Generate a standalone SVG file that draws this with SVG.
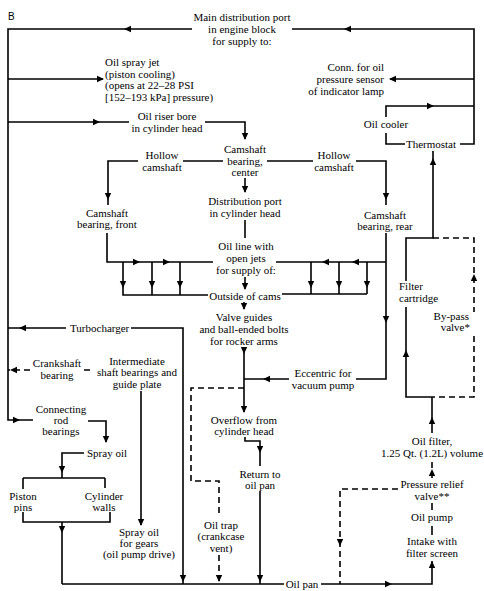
<svg xmlns="http://www.w3.org/2000/svg" width="484" height="591" viewBox="0 0 484 591">
<style>
.t{font-family:"Liberation Serif","Times New Roman",serif;font-size:11px;fill:#000;text-anchor:middle}
.s{text-anchor:start}
.e{text-anchor:end}
.c{fill:none;stroke:#000;stroke-width:1.6;stroke-linejoin:miter}
.d{stroke-dasharray:6 4}
.a{fill:#000}
</style>
<defs>
<path id="ah" d="M0,0 L-7,-3.2 L-7,3.2 Z"/>
</defs>
<rect width="484" height="591" fill="#fff"/>
<text x="8" y="20" style="font-family:'Liberation Sans',Arial,sans-serif;font-size:10px">B</text>

<g id="main-distribution" class="t"><text x="242" y="21">Main distribution port</text><text x="242" y="33">in engine block</text><text x="242" y="45">for supply to:</text></g>
<g id="conn-sensor" class="t e"><text x="384" y="71">Conn. for oil</text><text x="384" y="83">pressure sensor</text><text x="384" y="95">of indicator lamp</text></g>
<g id="oil-spray-jet" class="t s"><text x="105" y="66">Oil spray jet</text><text x="105" y="77.5">(piston cooling)</text><text x="105" y="89">(opens at 22–28 PSI</text><text x="105" y="100.5">[152–193 kPa] pressure)</text></g>
<g id="oil-riser" class="t"><text x="167" y="120">Oil riser bore</text><text x="167" y="132">in cylinder head</text></g>
<g id="oil-cooler" class="t"><text x="386" y="128">Oil cooler</text></g>
<g id="thermostat" class="t"><text x="431" y="148">Thermostat</text></g>
<g id="hollow-left" class="t"><text x="162" y="159">Hollow</text><text x="162" y="171">camshaft</text></g>
<g id="cam-center" class="t"><text x="245" y="153">Camshaft</text><text x="245" y="165">bearing,</text><text x="245" y="176">center</text></g>
<g id="hollow-right" class="t"><text x="334" y="159">Hollow</text><text x="334" y="171">camshaft</text></g>
<g id="dist-port" class="t"><text x="245" y="205">Distribution port</text><text x="245" y="217">in cylinder head</text></g>
<g id="cam-front" class="t"><text x="107" y="217">Camshaft</text><text x="107" y="228">bearing, front</text></g>
<g id="cam-rear" class="t"><text x="385" y="219">Camshaft</text><text x="385" y="230">bearing, rear</text></g>
<g id="oil-line" class="t"><text x="246" y="250">Oil line with</text><text x="246" y="262">open jets</text><text x="246" y="274">for supply of:</text></g>
<g id="outside-cams" class="t"><text x="245" y="300">Outside of cams</text></g>
<g id="valve-guides" class="t"><text x="244" y="321">Valve guides</text><text x="244" y="333">and ball-ended bolts</text><text x="244" y="345">for rocker arms</text></g>
<g id="filter-cartridge" class="t s"><text x="399" y="290">Filter</text><text x="399" y="302">cartridge</text></g>
<g id="bypass" class="t e"><text x="469" y="320">By-pass</text><text x="470" y="331">valve*</text></g>
<g id="turbo" class="t s"><text x="70" y="332">Turbocharger</text></g>
<g id="crankshaft" class="t"><text x="57" y="367">Crankshaft</text><text x="57" y="379">bearing</text></g>
<g id="intermediate" class="t"><text x="137" y="365">Intermediate</text><text x="137" y="376">shaft bearings and</text><text x="137" y="388">guide plate</text></g>
<g id="eccentric" class="t"><text x="323" y="377">Eccentric for</text><text x="323" y="389">vacuum pump</text></g>
<g id="conrod" class="t"><text x="61" y="413">Connecting</text><text x="61" y="424">rod</text><text x="61" y="435">bearings</text></g>
<g id="overflow" class="t"><text x="244" y="424">Overflow from</text><text x="244" y="435">cylinder head</text></g>
<g id="oil-filter" class="t"><text x="432" y="445">Oil filter,</text><text x="432" y="457">1.25 Qt. (1.2L) volume</text></g>
<g id="spray-oil" class="t s"><text x="87" y="457">Spray oil</text></g>
<g id="return" class="t"><text x="260" y="478">Return to</text><text x="260" y="489">oil pan</text></g>
<g id="pressure-relief" class="t"><text x="432" y="488">Pressure relief</text><text x="432" y="500">valve**</text></g>
<g id="piston-pins" class="t"><text x="23" y="500">Piston</text><text x="23" y="511">pins</text></g>
<g id="cyl-walls" class="t"><text x="104" y="500">Cylinder</text><text x="104" y="511">walls</text></g>
<g id="oil-pump" class="t"><text x="432" y="521">Oil pump</text></g>
<g id="oil-trap" class="t"><text x="221" y="529">Oil trap</text><text x="221" y="540">(crankcase</text><text x="221" y="552">vent)</text></g>
<g id="spray-gears" class="t"><text x="139" y="536">Spray oil</text><text x="139" y="547">for gears</text><text x="139" y="558">(oil pump drive)</text></g>
<g id="intake" class="t"><text x="432" y="545">Intake with</text><text x="432" y="557">filter screen</text></g>
<g id="oil-pan" class="t"><text x="302" y="588">Oil pan</text></g>

<g id="connectors">
<path class="c" d="M460,144 H474 V29 H292"/>
<path class="c" d="M474,79 H390"/>
<path class="c" d="M405,144 H386 V133 M386,117 V106 H474"/>
<path class="c" d="M192,29 H8 V420 H33"/>
<path class="c" d="M8,79 H103"/>
<path class="c" d="M8,122 H129 M205,122 H245 V139"/>
<path class="c" d="M223,161 H183 M138,161 H108 V205"/>
<path class="c" d="M267,161 H313 M356,161 H386 V205"/>
<path class="c" d="M245,178 V192"/>
<path class="c" d="M245,220 V238"/>
<path class="c" d="M245,277 V289"/>
<path class="c" d="M107,233 V262 H213 M123,262 V295 H208 M152,262 V295 M180,262 V295"/>
<path class="c" d="M386,233 V379 H356 M276,262 H386 M311,262 V294 M339,262 V294 M367,262 V294 M282,294 H367"/>
<path class="c" d="M244,302 V309"/>
<path class="c" d="M244,347 V412"/>
<path class="c" d="M289,379 H244"/>
<path class="c" d="M245,437 V441 H260 V466"/>
<path class="c" d="M260,491 V584"/>
<path class="c" d="M62,584 H284 M321,584 H432 V561"/>
<path class="c" d="M432,503 V510 M432,526 V535"/>
<path class="c d" d="M432,478 V461"/>
<path class="c" d="M432,433 V397"/>
<path class="c" d="M433,397 H406 V307 M406,281 V238 H433 V151"/>
<path class="c d" d="M433,238 H474 V312 M474,336 V397 H433"/>
<path class="c" d="M66,328 H8 M131,328 H183 V584"/>
<path class="c d" d="M30,370 H8 M84,370 H94"/>
<path class="c" d="M141,391 V525"/>
<path class="c d" d="M244,388 H191 V481 H219 V516 M219,555 V584"/>
<path class="c d" d="M398,489 H340 V584"/>
<path class="c" d="M88,421 H106 V442"/>
<path class="c" d="M84,453 H62 V478 M23,478 H105 M23,478 V489 M105,478 V488"/>
<path class="c" d="M23,512 V522 H110 V512 M62,522 V584"/>

<g class="a">
<use href="#ah" transform="translate(124,29) rotate(180)"/>
<use href="#ah" transform="translate(344,29) rotate(180)"/>
<use href="#ah" transform="translate(434,106)"/>
<use href="#ah" transform="translate(389,79) rotate(180)"/>
<use href="#ah" transform="translate(20,420)"/>
<use href="#ah" transform="translate(104,79)"/>
<use href="#ah" transform="translate(100,122)"/>
<use href="#ah" transform="translate(245,140) rotate(90)"/>
<use href="#ah" transform="translate(108,200) rotate(90)"/>
<use href="#ah" transform="translate(386,200) rotate(90)"/>
<use href="#ah" transform="translate(245,193) rotate(90)"/>
<use href="#ah" transform="translate(245,290) rotate(90)"/>
<use href="#ah" transform="translate(140,262)"/>
<use href="#ah" transform="translate(170,262)"/>
<use href="#ah" transform="translate(123,288) rotate(90)"/>
<use href="#ah" transform="translate(152,288) rotate(90)"/>
<use href="#ah" transform="translate(180,288) rotate(90)"/>
<use href="#ah" transform="translate(322,262) rotate(180)"/>
<use href="#ah" transform="translate(352,262) rotate(180)"/>
<use href="#ah" transform="translate(311,288) rotate(90)"/>
<use href="#ah" transform="translate(339,288) rotate(90)"/>
<use href="#ah" transform="translate(367,288) rotate(90)"/>
<use href="#ah" transform="translate(386,323) rotate(90)"/>
<use href="#ah" transform="translate(244,310) rotate(90)"/>
<use href="#ah" transform="translate(244,354) rotate(90)"/>
<use href="#ah" transform="translate(244,413) rotate(90)"/>
<use href="#ah" transform="translate(263,379) rotate(180)"/>
<use href="#ah" transform="translate(260,453) rotate(90)"/>
<use href="#ah" transform="translate(260,582) rotate(90)"/>
<use href="#ah" transform="translate(392,584)"/>
<use href="#ah" transform="translate(432,561) rotate(-90)"/>
<use href="#ah" transform="translate(432,469) rotate(-90)"/>
<use href="#ah" transform="translate(432,417) rotate(-90)"/>
<use href="#ah" transform="translate(406,350) rotate(-90)"/>
<use href="#ah" transform="translate(474,274) rotate(-90)"/>
<use href="#ah" transform="translate(433,158) rotate(-90)"/>
<use href="#ah" transform="translate(19,328) rotate(180)"/>
<use href="#ah" transform="translate(10,370) rotate(180)"/>
<use href="#ah" transform="translate(141,526) rotate(90)"/>
<use href="#ah" transform="translate(183,582) rotate(90)"/>
<use href="#ah" transform="translate(219,582) rotate(90)"/>
<use href="#ah" transform="translate(340,546) rotate(90)"/>
<use href="#ah" transform="translate(106,443) rotate(90)"/>
<use href="#ah" transform="translate(62,473) rotate(90)"/>
<use href="#ah" transform="translate(62,533) rotate(90)"/>
</g>
</g>
</svg>
